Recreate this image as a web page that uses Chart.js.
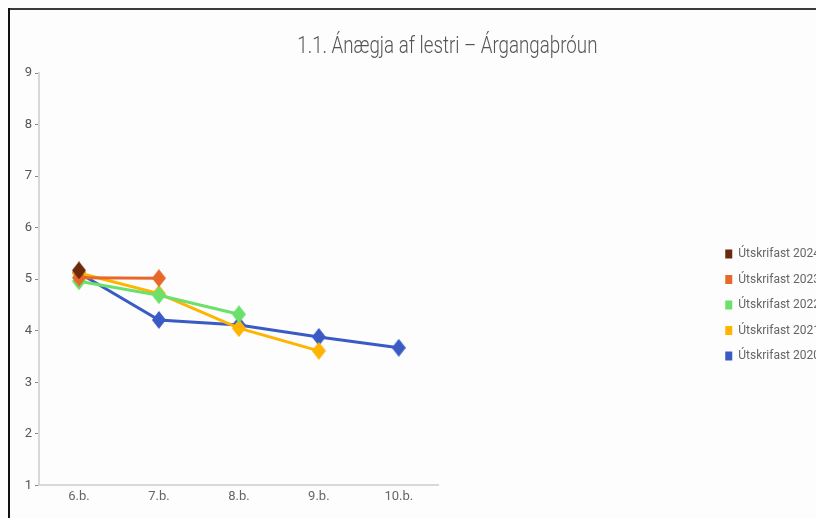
<!DOCTYPE html>
<html>
<head>
<meta charset="utf-8">
<script src="https://cdn.jsdelivr.net/npm/chart.js@4"></script>
<style>
  html, body { margin: 0; padding: 0; background: #fdfdfd; overflow: hidden; }
  #wrap { position: relative; width: 816px; height: 518px; overflow: hidden; }
  #lineTop { position: absolute; left: 8px; top: 8px; width: 808px; height: 2px; background: #3a3a3a; }
  #lineLeft { position: absolute; left: 8px; top: 8px; width: 2px; height: 510px; background: #111; }
  #title { position: absolute; left: 78px; width: 738px; top: 31px; text-align: center;
           font-family: Roboto, sans-serif; font-weight: 300;
           font-size: 24px; color: #555; white-space: nowrap; }
  #title span { display: inline-block; transform: scaleX(0.78); transform-origin: center; }
  #box { position: absolute; left: 0; top: 0; width: 816px; height: 518px; }
</style>
</head>
<body>
<div id="wrap">
  <div id="box"><canvas id="trendChart"></canvas></div>
  <div id="lineTop"></div>
  <div id="lineLeft"></div>
  <div id="title"><span>1.1. Ánægja af lestri – Árgangaþróun</span></div>
</div>
<script>
const grades = ["6.b.", "7.b.", "8.b.", "9.b.", "10.b."];
const seriesNames = ["Útskrifast 2024", "Útskrifast 2023", "Útskrifast 2022", "Útskrifast 2021", "Útskrifast 2020"];
const grad2024 = [5.17, null, null, null, null];
const grad2023 = [5.03, 5.02, null, null, null];
const grad2022 = [4.96, 4.69, 4.32, null, null];
const grad2021 = [5.12, 4.72, 4.05, 3.61, null];
const grad2020 = [5.12, 4.21, 4.11, 3.88, 3.67];
const colors = ["#6b2a0b", "#e8682a", "#6be06b", "#ffb400", "#3a5bc4"];

function diamond(color) {
  const c = document.createElement("canvas");
  c.width = 14;
  c.height = 18;
  const g = c.getContext("2d");
  g.fillStyle = color;
  g.beginPath();
  g.moveTo(7, 0);
  g.lineTo(14, 9);
  g.lineTo(7, 18);
  g.lineTo(0, 9);
  g.closePath();
  g.fill();
  return c;
}

const values = [grad2024, grad2023, grad2022, grad2021, grad2020];
const labelFont = { family: "Roboto, sans-serif", size: 13 };

new Chart(document.getElementById("trendChart"), {
  type: "line",
  data: {
    labels: grades,
    datasets: values.map((v, i) => ({
      label: seriesNames[i],
      data: v,
      borderColor: colors[i],
      backgroundColor: colors[i],
      borderWidth: 3,
      pointStyle: diamond(colors[i]),
      pointRadius: 8,
      tension: 0
    }))
  },
  options: {
    responsive: true,
    maintainAspectRatio: false,
    animation: false,
    layout: { padding: { top: 73, bottom: 9, left: 0, right: -14 } },
    plugins: {
      title: { display: false },
      tooltip: { enabled: false },
      legend: {
        position: "right",
        align: "center",
        title: { display: true, text: "", font: { size: 10 }, padding: 8 },
        labels: {
          boxWidth: 7,
          boxHeight: 9,
          padding: 13.5,
          color: "#444",
          font: { family: "Roboto, sans-serif", size: 12 },
          generateLabels: chart => chart.data.datasets.map((d, i) => ({
            text: d.label,
            fillStyle: d.borderColor,
            strokeStyle: d.borderColor,
            lineWidth: 0,
            datasetIndex: i
          }))
        }
      }
    },
    scales: {
      x: {
        offset: true,
        grid: { display: false, drawTicks: false },
        border: { color: "#d8d8d8", width: 2 },
        ticks: { color: "#666", font: labelFont, padding: 4 }
      },
      y: {
        min: 1,
        max: 9,
        afterFit: s => { s.width = 39; },
        grid: { drawOnChartArea: false, drawTicks: true, tickLength: 4, color: "#888" },
        border: { color: "#d8d8d8", width: 2 },
        ticks: { stepSize: 1, color: "#555", font: labelFont, padding: 3 }
      },
      spacer: {
        position: "right",
        afterFit: s => { s.width = 273; },
        grid: { display: false },
        border: { display: false },
        ticks: { display: false }
      }
    }
  }
});
</script>
</body>
</html>
